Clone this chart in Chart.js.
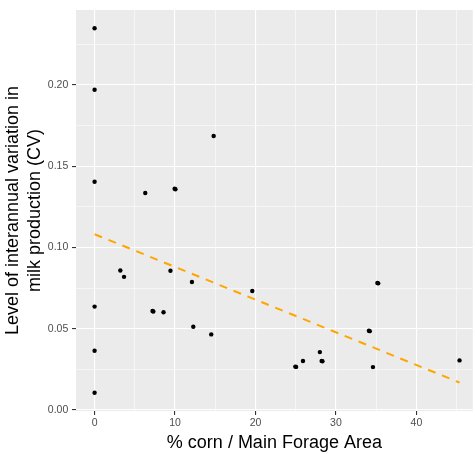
<!DOCTYPE html>
<html>
<head>
<meta charset="utf-8">
<script src="https://cdn.jsdelivr.net/npm/chart.js@4/dist/chart.umd.min.js"></script>
<style>
  html, body { margin: 0; padding: 0; background: #ffffff; }
  #wrap { width: 475px; height: 454px; position: relative; }
</style>
</head>
<body>
<div id="wrap"><canvas id="c"></canvas></div>
<script>
// Share of corn in the main forage area (%) for each farm
const cornShare = [
  0, 0, 0, 0, 0, 0,
  6.3, 9.95, 10.05, 14.8,
  3.2, 3.66, 7.2, 7.3, 8.57, 9.43, 12.1, 12.27, 14.5,
  19.6, 35.15, 35.25, 34.1, 34.2, 28.0, 28.22, 28.32, 25.9, 24.95, 25.05, 34.6, 45.36
];
// Coefficient of variation of milk production between years
const milkCV = [
  0.2348, 0.1970, 0.1404, 0.0636, 0.0364, 0.0106,
  0.1335, 0.1361, 0.1358, 0.1685,
  0.0858, 0.0819, 0.0609, 0.0606, 0.0601, 0.0856, 0.0787, 0.0512, 0.0465,
  0.0732, 0.0781, 0.0779, 0.0487, 0.0485, 0.0356, 0.0302, 0.0300, 0.0301, 0.0267, 0.0265, 0.0264, 0.0305
];
// Fitted linear trend, end points
const trendX = [0, 45.36];
const trendY = [0.1081, 0.0169];

const xMajorTicks = [0, 10, 20, 30, 40];
const xMinorTicks = [5, 15, 25, 35, 45];
const yMajorTicks = [0, 0.05, 0.10, 0.15, 0.20];
const yMinorTicks = [0.025, 0.075, 0.125, 0.175, 0.225];

const xTitle = '% corn / Main Forage Area';
const yTitle = ['Level of interannual variation in', 'milk production (CV)'];

const FONT = "'Liberation Sans', Arial, Helvetica, sans-serif";

const points = cornShare.map((x, i) => ({ x: x, y: milkCV[i] }));
const trend = trendX.map((x, i) => ({ x: x, y: trendY[i] }));

const isIn = (list, v) => list.some(t => Math.abs(t - v) < 1e-9);

function tickSetter(major, minor) {
  return function (scale) {
    scale.ticks = major.concat(minor).sort((a, b) => a - b).map(v => ({ value: v }));
  };
}

function gridFor(major) {
  return {
    color: '#ffffff',
    lineWidth: ctx => (ctx.tick && isIn(major, ctx.tick.value)) ? 1.1 : 0.55,
    drawTicks: true,
    tickLength: 4,
    tickWidth: 1.1,
    tickColor: ctx => (ctx.tick && isIn(major, ctx.tick.value)) ? '#333333' : 'rgba(0,0,0,0)'
  };
}

// Grey panel behind the grid
const panelBackground = {
  id: 'panelBackground',
  beforeDraw(chart) {
    const { ctx, chartArea: a } = chart;
    ctx.save();
    ctx.fillStyle = '#EBEBEB';
    ctx.fillRect(a.left, a.top, a.right - a.left, a.bottom - a.top);
    ctx.restore();
  }
};

new Chart(document.getElementById('c'), {
  type: 'scatter',
  data: {
    datasets: [
      {
        type: 'line',
        data: trend,
        borderColor: '#FFA500',
        borderWidth: 2,
        borderDash: [8, 7],
        pointRadius: 0,
        fill: false,
        order: 0
      },
      {
        data: points,
        backgroundColor: '#000000',
        borderWidth: 0,
        pointRadius: 2.2,
        pointHoverRadius: 2.2,
        order: 1
      }
    ]
  },
  options: {
    responsive: true,
    maintainAspectRatio: false,
    animation: false,
    layout: { padding: { top: 6.5, right: 0, bottom: 0, left: 0 } },
    plugins: {
      legend: { display: false },
      tooltip: { enabled: false }
    },
    scales: {
      x: {
        type: 'linear',
        min: -2.31,
        max: 47.01,
        border: { display: false },
        grid: gridFor(xMajorTicks),
        afterBuildTicks: tickSetter(xMajorTicks, xMinorTicks),
        afterFit: s => { s.height = 43; },
        ticks: {
          autoSkip: false,
          maxRotation: 0,
          padding: 2,
          color: '#4D4D4D',
          font: { family: FONT, size: 10.5 },
          callback: v => isIn(xMajorTicks, v) ? String(v) : ''
        },
        title: {
          display: true,
          text: xTitle,
          color: '#000000',
          font: { family: FONT, size: 18, lineHeight: 1.2 },
          padding: { top: 0, bottom: 0 }
        }
      },
      y: {
        type: 'linear',
        min: -0.00061,
        max: 0.2460,
        border: { display: false },
        grid: gridFor(yMajorTicks),
        afterBuildTicks: tickSetter(yMajorTicks, yMinorTicks),
        afterFit: s => { s.width = 76; },
        ticks: {
          autoSkip: false,
          padding: 3.7,
          color: '#4D4D4D',
          font: { family: FONT, size: 10.5 },
          callback: v => isIn(yMajorTicks, v) ? v.toFixed(2) : ''
        },
        title: {
          display: true,
          text: yTitle,
          color: '#000000',
          font: { family: FONT, size: 18, lineHeight: 1.22 },
          padding: { top: 2, bottom: 0 }
        }
      }
    }
  },
  plugins: [panelBackground]
});
</script>
</body>
</html>
